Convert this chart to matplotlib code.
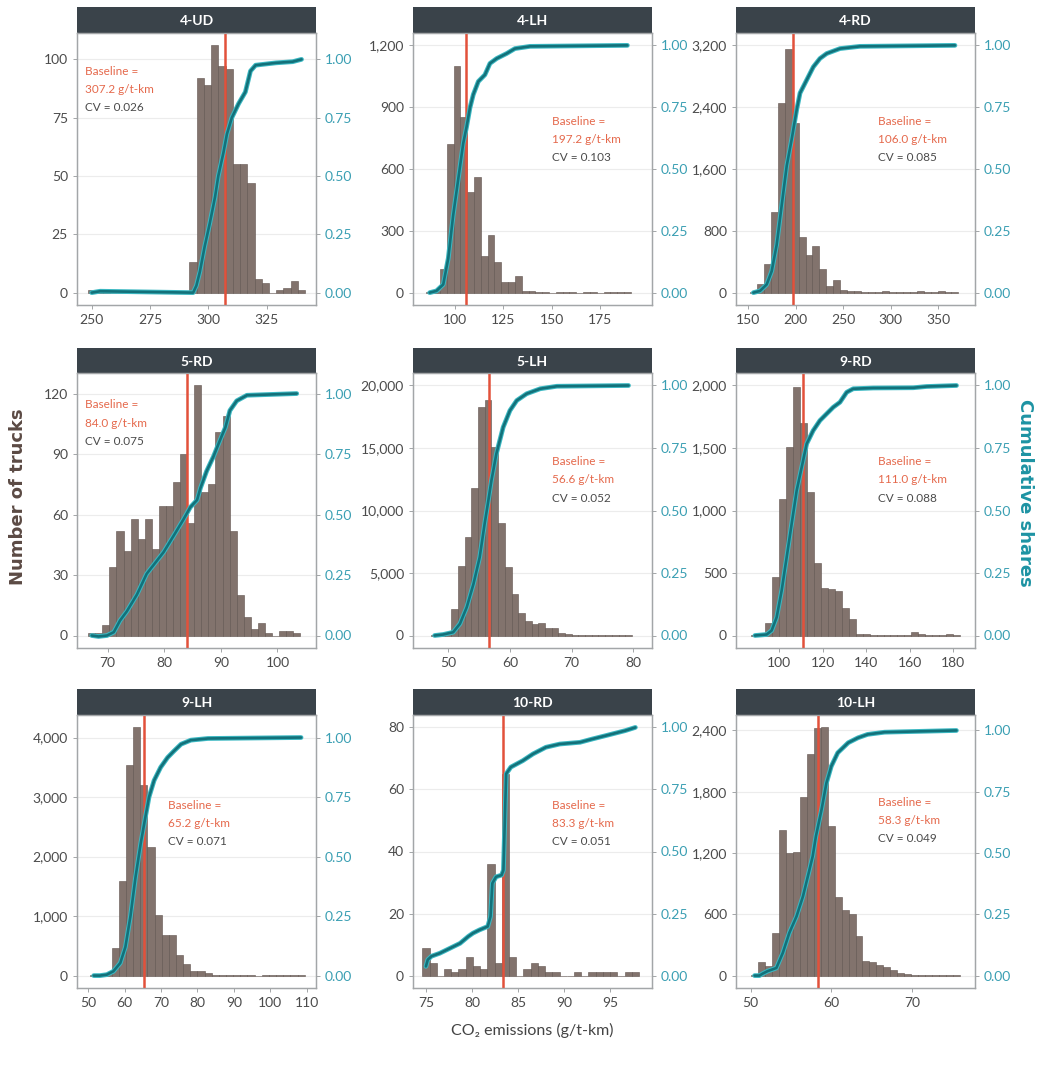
import matplotlib
matplotlib.use('Agg')
import matplotlib.pyplot as plt
import numpy as np
from matplotlib.ticker import FuncFormatter

plt.rcParams['font.family'] = ['Lato', 'DejaVu Sans']

# ---- data (30 histogram bins per panel, ggplot style) ----
titles = ['4-UD', '4-LH', '4-RD', '5-RD', '5-LH', '9-RD', '9-LH', '10-RD', '10-LH']
baselines = [307.2, 106.0, 197.2, 84.0, 56.6, 111.0, 65.2, 83.3, 58.3]
# the labels as printed on the chart (4-LH / 4-RD texts are swapped there)
baseline_labels = ['307.2', '197.2', '106.0', '84.0', '56.6', '111.0', '65.2', '83.3', '58.3']
cv_labels = ['0.026', '0.103', '0.085', '0.075', '0.052', '0.088', '0.071', '0.051', '0.049']
data_ranges = [(250.0, 340.0), (87.0, 189.0), (155.3, 367.5), (67.2, 103.4), (47.8, 79.2),
               (88.8, 181.5), (51.5, 108.5), (75.0, 97.7), (50.5, 75.5)]

ud4_counts = [1, 1, 1, 0, 0, 0, 0, 0, 0, 0, 0, 0, 0, 0, 13, 92, 89, 106, 97, 96, 55, 55, 47, 6, 4, 0, 1, 2, 5, 1]
lh4_counts = [3, 8, 115, 720, 1100, 850, 490, 560, 180, 280, 150, 50, 50, 80, 10, 8, 3, 2, 0, 2, 2, 2, 0, 2, 2, 0, 2, 2, 2, 2]
rd4_counts = [5, 110, 370, 1050, 2450, 3150, 2200, 720, 490, 600, 300, 80, 160, 30, 25, 20, 10, 5, 5, 15, 5, 5, 5, 5, 15, 10, 5, 15, 10, 5]
rd5_counts = [1, 1, 5, 34, 52, 42, 58, 48, 58, 43, 64, 64, 76, 90, 56, 124, 71, 75, 101, 109, 52, 20, 9, 3, 6, 1, 0, 2, 2, 1]
lh5_counts = [20, 60, 150, 2100, 5600, 7900, 11800, 18300, 18800, 15100, 9000, 5500, 3300, 1800, 1200, 900, 1000, 600,
              600, 200, 100, 60, 30, 20, 10, 8, 5, 3, 2, 1]
rd9_counts = [2, 10, 100, 470, 1090, 1510, 1990, 1700, 1150, 580, 380, 370, 360, 220, 130, 10, 10, 8, 5, 3, 3, 5, 5, 25,
              10, 5, 5, 5, 10, 5]
lh9_counts = [10, 20, 40, 470, 1590, 3530, 4170, 3210, 2160, 1020, 680, 690, 340, 200, 80, 70, 50, 10, 5, 5, 4, 3, 3, 0,
              2, 2, 2, 2, 2, 2]
rd10_counts = [9, 4, 0, 2, 1, 2, 6, 3, 2, 36, 4, 65, 6, 0, 2, 4, 3, 1, 1, 0, 0, 1, 0, 1, 1, 1, 1, 0, 1, 1]
lh10_counts = [5, 130, 90, 420, 1425, 1200, 1215, 1750, 2165, 2420, 2430, 1460, 770, 640, 600, 390, 140, 130, 100, 80,
               50, 30, 15, 10, 8, 5, 3, 2, 1, 1]

# cumulative shares (ECDF)
ud4_cum_x = [250.0, 253.6, 293.5, 294.9, 296.4, 298.5, 300.7, 302.9, 304.3, 306.5, 308.0, 310.1, 313.0, 315.9, 318.1,
             320.3, 329.0, 336.2, 340.0]
ud4_cum_y = [0.0, 0.006, 0.0, 0.03, 0.09, 0.2, 0.3, 0.41, 0.5, 0.6, 0.68, 0.75, 0.81, 0.86, 0.95, 0.975, 0.985, 0.99, 1.0]
lh4_cum_x = [87.0, 90.5, 94.0, 96.6, 99.1, 101.7, 104.3, 106.0, 107.8, 109.5, 112.1, 115.5, 118.1, 121.6, 126.7, 131.0,
             138.8, 189.0]
lh4_cum_y = [0.0, 0.007, 0.033, 0.139, 0.311, 0.457, 0.603, 0.669, 0.748, 0.801, 0.854, 0.881, 0.927, 0.947, 0.967,
             0.987, 0.996, 1.0]
rd4_cum_x = [155.3, 162.3, 169.3, 174.6, 179.8, 185.1, 190.4, 195.6, 200.9, 204.4, 211.4, 218.4, 225.4, 232.5, 246.5,
             267.5, 367.5]
rd4_cum_y = [0.0, 0.007, 0.033, 0.087, 0.193, 0.353, 0.513, 0.62, 0.74, 0.807, 0.86, 0.913, 0.947, 0.967, 0.987, 0.996,
             1.0]
rd5_cum_x = [67.2, 68.4, 69.9, 71.1, 72.2, 73.4, 75.2, 76.9, 78.4, 79.9, 81.6, 83.4, 84.6, 85.8, 86.4, 87.5, 88.7, 89.9,
             90.8, 91.6, 92.8, 94.6, 103.4]
rd5_cum_y = [0.0, -0.004, 0.0, 0.014, 0.062, 0.1, 0.17, 0.255, 0.3, 0.345, 0.41, 0.48, 0.53, 0.56, 0.61, 0.68, 0.74,
             0.81, 0.86, 0.93, 0.97, 0.993, 1.0]
lh5_cum_x = [47.8, 49.2, 50.8, 51.9, 53.0, 54.1, 55.1, 55.9, 56.5, 57.0, 57.8, 58.9, 60.0, 61.1, 62.7, 64.9, 67.6, 79.2]
lh5_cum_y = [0.0, 0.004, 0.013, 0.047, 0.113, 0.207, 0.313, 0.447, 0.54, 0.62, 0.727, 0.833, 0.9, 0.94, 0.967, 0.987,
             0.997, 1.0]
rd9_cum_x = [88.8, 94.2, 96.5, 98.8, 101.1, 103.4, 105.7, 108.0, 110.3, 112.6, 115.6, 118.7, 121.8, 124.8, 127.9, 131.0,
             134.0, 143.2, 161.6, 167.7, 181.5]
rd9_cum_y = [0.0, 0.004, 0.02, 0.073, 0.18, 0.313, 0.447, 0.58, 0.673, 0.767, 0.82, 0.86, 0.887, 0.913, 0.933, 0.973,
             0.987, 0.99, 0.991, 0.996, 1.0]
lh9_cum_x = [51.5, 53.2, 55.1, 56.9, 58.8, 60.2, 61.6, 63.0, 64.4, 65.7, 66.7, 68.1, 69.9, 71.8, 73.6, 75.5, 78.2, 82.9,
             108.5]
lh9_cum_y = [0.0, 0.0, 0.004, 0.018, 0.053, 0.12, 0.25, 0.415, 0.554, 0.666, 0.75, 0.82, 0.875, 0.916, 0.944, 0.972,
             0.989, 0.996, 1.0]
rd10_cum_x = [75.0, 75.2, 75.6, 76.5, 77.6, 78.7, 79.6, 80.1, 80.8, 81.7, 82.0, 82.2, 82.6, 83.2, 83.4, 83.6, 83.7, 84.2,
              85.5, 86.6, 88.0, 89.5, 91.7, 93.0, 94.5, 96.6, 97.7]
rd10_cum_y = [0.037, 0.064, 0.078, 0.09, 0.11, 0.13, 0.158, 0.171, 0.184, 0.198, 0.238, 0.372, 0.398, 0.405, 0.425, 0.69,
              0.813, 0.84, 0.866, 0.893, 0.92, 0.933, 0.94, 0.953, 0.967, 0.987, 1.0]
lh10_cum_x = [50.5, 51.1, 51.5, 52.1, 53.2, 54.0, 54.8, 55.7, 56.5, 57.1, 57.7, 58.1, 58.8, 59.4, 60.0, 60.8, 62.1, 63.3,
              64.5, 66.6, 75.5]
lh10_cum_y = [0.0, 0.0, 0.008, 0.018, 0.031, 0.093, 0.174, 0.242, 0.324, 0.405, 0.487, 0.569, 0.678, 0.786, 0.854,
              0.909, 0.95, 0.97, 0.984, 0.993, 1.0]

counts_list = [ud4_counts, lh4_counts, rd4_counts, rd5_counts, lh5_counts, rd9_counts, lh9_counts, rd10_counts,
               lh10_counts]
cum_list = [(ud4_cum_x, ud4_cum_y), (lh4_cum_x, lh4_cum_y), (rd4_cum_x, rd4_cum_y), (rd5_cum_x, rd5_cum_y),
            (lh5_cum_x, lh5_cum_y), (rd9_cum_x, rd9_cum_y), (lh9_cum_x, lh9_cum_y), (rd10_cum_x, rd10_cum_y),
            (lh10_cum_x, lh10_cum_y)]

y_ticks = [[0, 25, 50, 75, 100], [0, 300, 600, 900, 1200], [0, 800, 1600, 2400, 3200], [0, 30, 60, 90, 120],
           [0, 5000, 10000, 15000, 20000], [0, 500, 1000, 1500, 2000], [0, 1000, 2000, 3000, 4000],
           [0, 20, 40, 60, 80], [0, 600, 1200, 1800, 2400]]
x_ticks = [[250, 275, 300, 325], [100, 125, 150, 175], [150, 200, 250, 300, 350], [70, 80, 90, 100], [50, 60, 70, 80],
           [100, 120, 140, 160, 180], [50, 60, 70, 80, 90, 100, 110], [75, 80, 85, 90, 95], [50, 60, 70]]
share_ticks = [0, 0.25, 0.5, 0.75, 1.0]

# ---- layout (pixels of the 1040x1066 figure) ----
W, H = 1040, 1066
col_x = [77, 413, 736]
panel_w = 239
rows = [(7, 33, 305), (348, 373, 648), (689, 715, 988)]
x_limits = [(243.7, 346.2), (78.4, 201.7), (137.0, 388.6), (64.6, 106.8), (44.3, 83.0), (80.1, 190.0),
            (46.9, 112.6), (73.6, 99.5), (48.2, 77.8)]
# annotation anchor (axes fraction) for each panel
note_pos = [(0.033, 0.857), (0.58, 0.674), (0.594, 0.674), (0.033, 0.884), (0.58, 0.677), (0.594, 0.677),
            (0.382, 0.67), (0.58, 0.67), (0.594, 0.678)]

bar_fill = '#82736d'
bar_edge = '#5f534e'
red = '#e2513b'
teal_dark = '#13717a'
teal_light = '#3bb8c2'
tick_teal = '#3a9fb3'
grey_txt = '#4b4b4b'
frame = '#a3a6a8'


def box(x0, y0, x1, y1):
    return [x0 / W, 1 - y1 / H, (x1 - x0) / W, (y1 - y0) / H]


fig = plt.figure(figsize=(W / 100, H / 100), dpi=100)

for i, title in enumerate(titles):
    r, c = divmod(i, 3)
    strip_top, top, bottom = rows[r]
    x0 = col_x[c]

    # strip
    sax = fig.add_axes(box(x0, strip_top, x0 + panel_w, top))
    sax.set_facecolor('#3a434a')
    sax.set_xticks([])
    sax.set_yticks([])
    for s in sax.spines.values():
        s.set_visible(False)
    sax.text(0.5, 0.45, title, transform=sax.transAxes, ha='center', va='center', color='white',
             fontsize=10, fontweight='bold')

    ax = fig.add_axes(box(x0, top, x0 + panel_w, bottom))
    counts = np.array(counts_list[i])
    lo, hi = data_ranges[i]
    w = (hi - lo) / 29
    edges = lo - w / 2 + w * np.arange(31)
    scale = y_ticks[i][-1]
    top_val = max(counts.max(), scale)

    ax.set_axisbelow(True)
    ax.grid(axis='y', color='#ececec', lw=0.8)
    ax.bar(edges[:-1], counts, width=w, align='edge', color=bar_fill, edgecolor=bar_edge, lw=0.4, zorder=2)
    ax.axvline(baselines[i], color=red, lw=1.8, zorder=4)
    ax.set_xlim(*x_limits[i])
    ax.set_ylim(-0.05 * top_val, 1.05 * top_val)
    ax.set_xticks(x_ticks[i])
    ax.set_yticks(y_ticks[i])
    ax.yaxis.set_major_formatter(FuncFormatter(lambda v, p: '{:,.0f}'.format(v)))
    ax.tick_params(axis='both', labelsize=10, colors=frame, labelcolor=grey_txt, length=3, width=0.7)

    ax2 = ax.twinx()
    ax2.set_ylim(-0.05 * top_val / scale, 1.05 * top_val / scale)
    cx, cy = cum_list[i]
    ax2.plot(cx, cy, color=teal_light, lw=3.4, solid_capstyle='round', zorder=3)
    ax2.plot(cx, cy, color=teal_dark, lw=1.9, solid_capstyle='round', zorder=4)
    ax2.set_yticks(share_ticks)
    ax2.yaxis.set_major_formatter(FuncFormatter(lambda v, p: '{:.2f}'.format(v)))
    ax2.tick_params(axis='y', labelsize=10, colors=frame, labelcolor=tick_teal, length=3, width=0.7)

    for a in (ax, ax2):
        for s in a.spines.values():
            s.set_color(frame)
            s.set_linewidth(0.9)

    tx, ty = note_pos[i]
    step = 0.066
    ax2.text(tx, ty, 'Baseline =', transform=ax.transAxes, color='#e5694c', fontsize=8.5, va='center', zorder=6)
    ax2.text(tx, ty - step, baseline_labels[i] + ' g/t-km', transform=ax.transAxes, color='#e5694c', fontsize=8.5,
             va='center', zorder=6)
    ax2.text(tx, ty - 2 * step, 'CV = ' + cv_labels[i], transform=ax.transAxes, color='#4a4a4a', fontsize=8.5,
             va='center', zorder=6)

fig.text(18 / W, 1 - 497 / H, 'Number of trucks', rotation=90, ha='center', va='center', fontsize=13,
         fontweight='bold', color='#5b4a44', family='DejaVu Sans')
fig.text(1025 / W, 1 - 493 / H, 'Cumulative shares', rotation=270, ha='center', va='center', fontsize=13,
         fontweight='bold', color='#1d93a3', family='DejaVu Sans')
fig.text(532 / W, 1 - 1030 / H, 'CO₂ emissions (g/t-km)', ha='center', va='center', fontsize=11.5, color='#444444')

fig.savefig('out.png', dpi=100)
